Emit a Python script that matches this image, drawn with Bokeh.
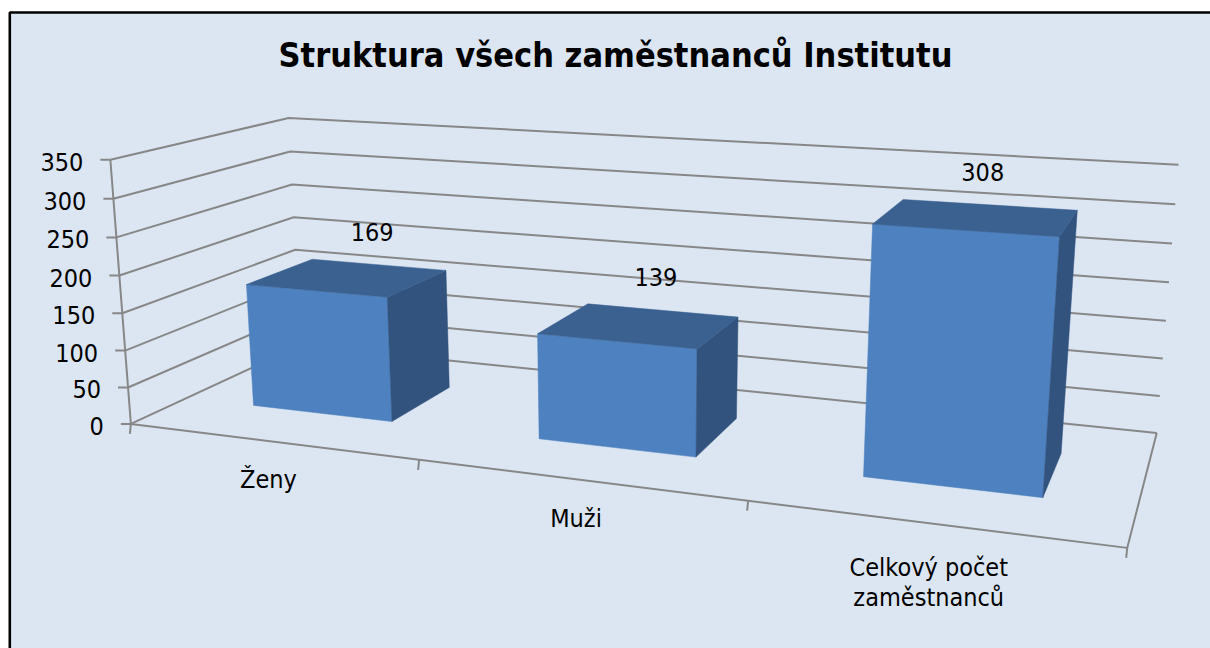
import numpy as np
from bokeh.plotting import figure
from bokeh.models import Range1d, Label
from bokeh.embed import file_html
from bokeh.resources import INLINE
from bokeh.core.properties import value

# ---- data ----
categories = ["Ženy", "Muži", "Celkový počet\nzaměstnanců"]
counts = [169, 139, 308]
y_ticks = [0, 50, 100, 150, 200, 250, 300, 350]
y_max = 350
title = "Struktura všech zaměstnanců Institutu"

# ---- layout: projected corners of the 3D plot box (u=category axis, v=value, w=depth) ----
box3d = [(0, 0, 0), (0, 1, 0), (0, 0, 1), (0, 1, 1), (1, 0, 1), (1, 1, 1), (1, 0, 0)]
box2d = [(130, 423), (110, 160), (300, 345), (288, 117), (1156, 433), (1178, 164), (1127, 547)]

A = []
for (X, Y, Z), (x, y) in zip(box3d, box2d):
    Xh = [X, Y, Z, 1.0]
    A.append(Xh + [0, 0, 0, 0] + [-x * c for c in Xh])
    A.append([0, 0, 0, 0] + Xh + [-y * c for c in Xh])
_, _, Vt = np.linalg.svd(np.array(A, float))
P = Vt[-1].reshape(3, 4)


def proj(u, v, w):
    h = P @ np.array([u, v, w, 1.0])
    return h[0] / h[2], h[1] / h[2]


FONT = "DejaVu Sans Condensed"
BG = "#dce6f2"
GRID = "#878787"
LW = 2.0

W, H = 1210, 648
p = figure(width=W, height=H, output_backend="svg", toolbar_location=None,
           x_range=Range1d(0, W), y_range=Range1d(H, 0), min_border=0)
p.axis.visible = False
p.grid.visible = False
p.outline_line_color = None
p.background_fill_color = "white"
p.border_fill_color = "white"

# chart area
p.quad(left=[9.3], right=[1240], top=[12], bottom=[700], fill_color=BG, line_color="black", line_width=2.6)

n = len(categories)
# gridlines on left wall and back wall
gx, gy = [], []
for t in y_ticks:
    v = t / y_max
    a = proj(0, v, 0); b = proj(0, v, 1); c = proj(1, v, 1)
    gx.append([a[0], b[0], c[0]]); gy.append([a[1], b[1], c[1]])
p.multi_line(gx, gy, line_color=GRID, line_width=LW)

# value axis line, ticks, labels
a = proj(0, 0, 0); b = proj(0, 1, 0)
p.line([a[0], b[0]], [a[1], b[1]], line_color=GRID, line_width=LW)
tx, ty, lx, ly, lt = [], [], [], [], []
for t in y_ticks:
    x0, y0 = proj(0, t / y_max, 0)
    tx.append([x0 - 10, x0]); ty.append([y0, y0])
    lx.append(x0 - 27); ly.append(y0 + 2); lt.append(str(t))
p.multi_line(tx, ty, line_color=GRID, line_width=LW)
p.text(lx, ly, text=lt, text_font=value(FONT), text_font_size="25px", text_align="right",
       text_baseline="middle", text_color="black")

# floor edges and category ticks
f = [proj(0, 0, 0), proj(1, 0, 0), proj(1, 0, 1)]
p.line([q[0] for q in f], [q[1] for q in f], line_color=GRID, line_width=LW)
cx, cy = [], []
for i in range(n + 1):
    x0, y0 = proj(i / n, 0, 0)
    cx.append([x0, x0 - 1]); cy.append([y0, y0 + 10])
p.multi_line(cx, cy, line_color=GRID, line_width=LW)

# bars (3D boxes), drawn far (left) to near (right)
hw = 0.25          # half bar width, fraction of a category
w0, w1 = 0.3, 0.7  # bar depth range
for i, cnt in enumerate(counts):
    ua = (i + 0.5 - hw) / n
    ub = (i + 0.5 + hw) / n
    v = cnt / y_max
    front = [proj(ua, 0, w0), proj(ub, 0, w0), proj(ub, v, w0), proj(ua, v, w0)]
    side = [proj(ub, 0, w0), proj(ub, 0, w1), proj(ub, v, w1), proj(ub, v, w0)]
    top = [proj(ua, v, w0), proj(ub, v, w0), proj(ub, v, w1), proj(ua, v, w1)]
    for poly, col in ((front, "#4d81bf"), (side, "#32537e"), (top, "#3b6190")):
        p.patch([q[0] for q in poly], [q[1] for q in poly], fill_color=col, line_color=col, line_width=0.5)

# data labels
dx, dy, dt = [], [], []
for i, cnt in enumerate(counts):
    x0, y0 = proj((i + 0.5) / n, cnt / y_max, w1)
    dx.append(x0 - 6); dy.append(y0 - 33); dt.append(str(cnt))
p.text(dx, dy, text=dt, text_font=value(FONT), text_font_size="25px",
       text_align="center", text_baseline="middle", text_color="black")

# category labels
for i, cat in enumerate(categories):
    x0, y0 = proj((i + 0.5) / n, 0, 0)
    lines = cat.split("\n")
    for j, line in enumerate(lines):
        p.text([x0 - 2], [y0 + 24 + 6 * (len(lines) - 1) + 30 * j], text=[line], text_font=value(FONT),
               text_font_size="25px", text_align="center", text_baseline="top", text_color="black")

p.add_layout(Label(x=615, y=54, text=title, text_font=FONT, text_font_size="34px",
                   text_font_style="bold", text_align="center", text_baseline="middle", text_color="black"))

open("out.html", "w").write(file_html(p, INLINE))
